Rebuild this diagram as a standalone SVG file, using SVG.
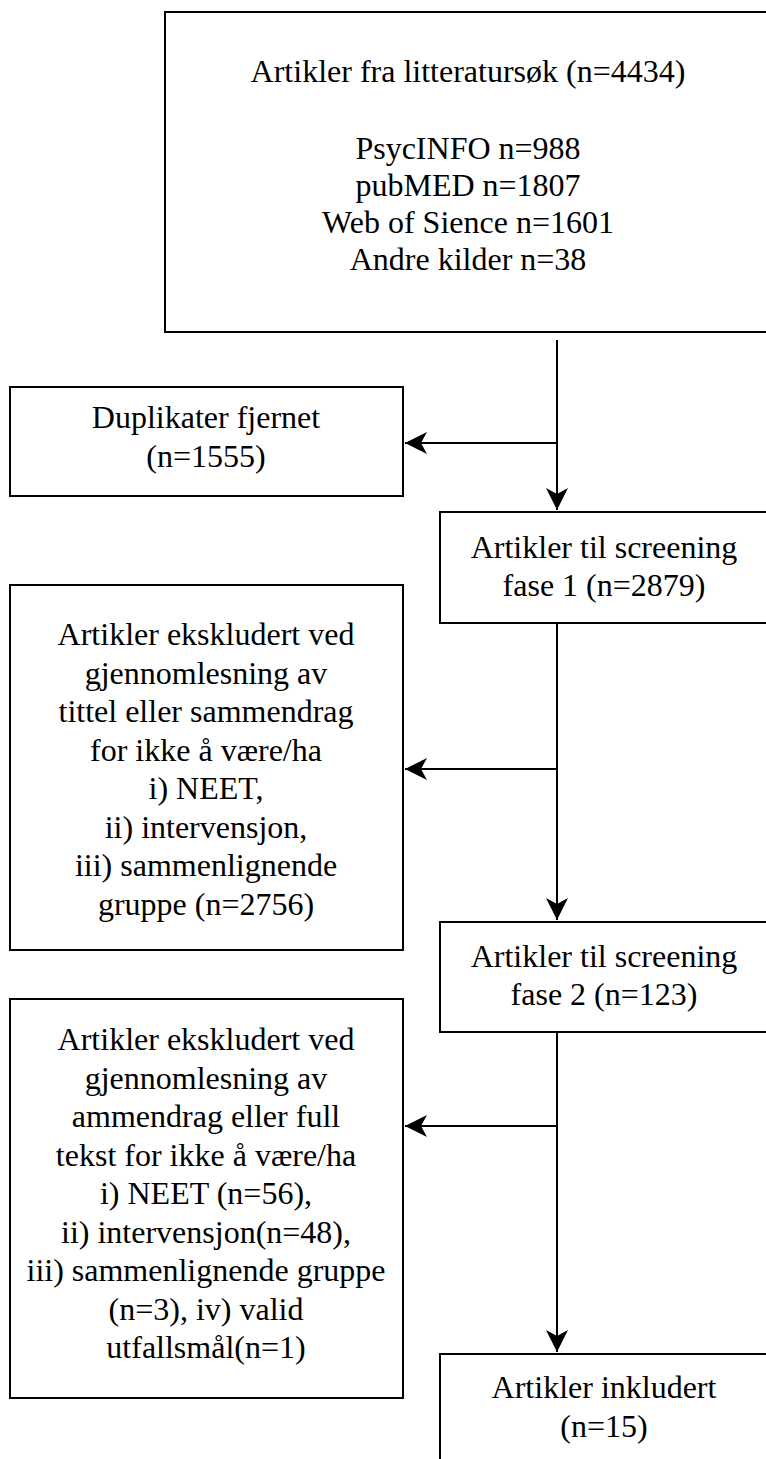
<svg xmlns="http://www.w3.org/2000/svg" width="766" height="1459" viewBox="0 0 766 1459">
<style>
.box{fill:#fff;stroke:#000;stroke-width:2}
.t{font-family:"Liberation Serif","Times New Roman",serif;font-size:32px;fill:#000;text-anchor:middle}
.c{fill:none;stroke:#000;stroke-width:2}
</style>
<defs>
<marker id="ah" markerUnits="userSpaceOnUse" markerWidth="24" markerHeight="24" viewBox="0 0 24 24" refX="22" refY="12" orient="auto">
<path d="M0,1 L22,12 L0,23 L6,12 Z" fill="#000"/>
</marker>
</defs>
<rect width="766" height="1459" fill="#fff"/>
<g id="connectors">
<path class="c" d="M557,340 V510" marker-end="url(#ah)"/>
<path class="c" d="M557,443 H405" marker-end="url(#ah)"/>
<path class="c" d="M557,623 V920" marker-end="url(#ah)"/>
<path class="c" d="M557,769 H405" marker-end="url(#ah)"/>
<path class="c" d="M557,1032 V1352" marker-end="url(#ah)"/>
<path class="c" d="M557,1126 H405" marker-end="url(#ah)"/>
</g>
<g id="n-search">
<rect class="box" x="165" y="12" width="606" height="320"/>
<text class="t" x="468" y="82">Artikler fra litteratursøk (n=4434)</text>
<text class="t" x="468" y="159">PsycINFO n=988</text>
<text class="t" x="468" y="196">pubMED n=1807</text>
<text class="t" x="468" y="233">Web of Sience n=1601</text>
<text class="t" x="468" y="270">Andre kilder n=38</text>
</g>
<g id="n-dup">
<rect class="box" x="10" y="387" width="393" height="109"/>
<text class="t" x="206" y="428">Duplikater fjernet</text>
<text class="t" x="206" y="467">(n=1555)</text>
</g>
<g id="n-screen1">
<rect class="box" x="440" y="512" width="328" height="111"/>
<text class="t" x="604" y="558">Artikler til screening</text>
<text class="t" x="604" y="596">fase 1 (n=2879)</text>
</g>
<g id="n-excl1">
<rect class="box" x="10" y="585" width="393" height="365"/>
<text class="t" x="206" y="645">Artikler ekskludert ved</text>
<text class="t" x="206" y="683.5">gjennomlesning av</text>
<text class="t" x="206" y="722">tittel eller sammendrag</text>
<text class="t" x="206" y="760.5">for ikke å være/ha</text>
<text class="t" x="206" y="799">i) NEET,</text>
<text class="t" x="206" y="837.5">ii) intervensjon,</text>
<text class="t" x="206" y="876">iii) sammenlignende</text>
<text class="t" x="206" y="914.5">gruppe (n=2756)</text>
</g>
<g id="n-screen2">
<rect class="box" x="440" y="922" width="328" height="110"/>
<text class="t" x="604" y="967">Artikler til screening</text>
<text class="t" x="604" y="1005">fase 2 (n=123)</text>
</g>
<g id="n-excl2">
<rect class="box" x="10" y="999" width="393" height="399"/>
<text class="t" x="206" y="1050">Artikler ekskludert ved</text>
<text class="t" x="206" y="1088.5">gjennomlesning av</text>
<text class="t" x="206" y="1127">ammendrag eller full</text>
<text class="t" x="206" y="1165.5">tekst for ikke å være/ha</text>
<text class="t" x="206" y="1204">i) NEET (n=56),</text>
<text class="t" x="206" y="1242.5">ii) intervensjon(n=48),</text>
<text class="t" x="206" y="1281">iii) sammenlignende gruppe</text>
<text class="t" x="206" y="1319.5">(n=3), iv) valid</text>
<text class="t" x="206" y="1358">utfallsmål(n=1)</text>
</g>
<g id="n-incl">
<rect class="box" x="440" y="1354" width="328" height="120"/>
<text class="t" x="604" y="1398">Artikler inkludert</text>
<text class="t" x="604" y="1437">(n=15)</text>
</g>
</svg>
